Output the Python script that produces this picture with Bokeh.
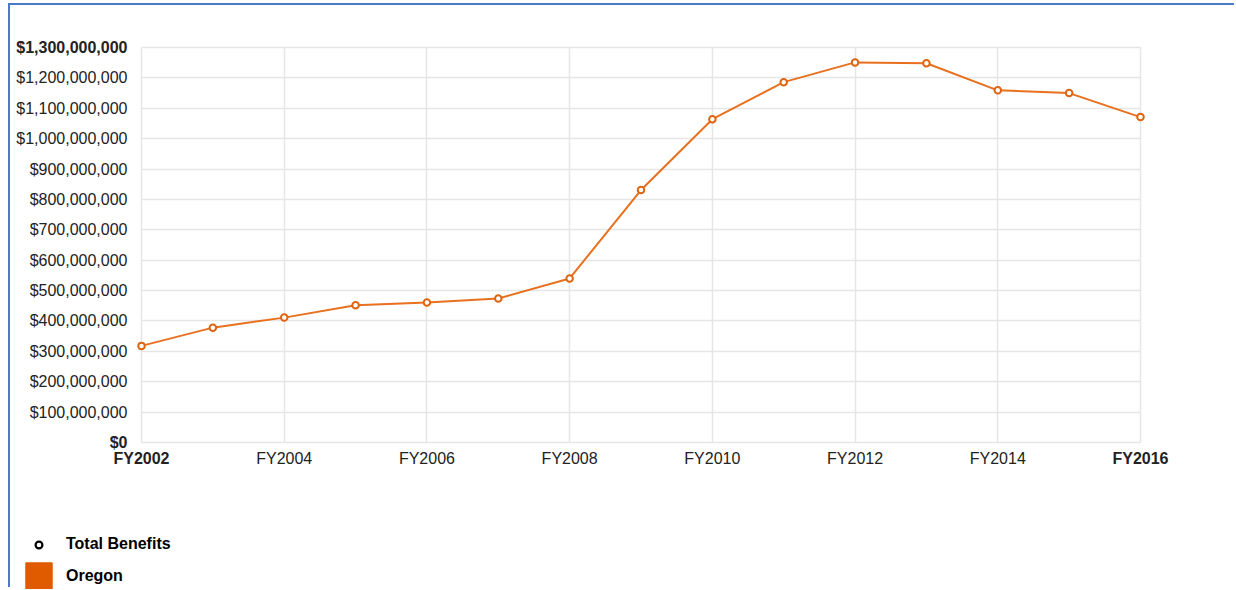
from bokeh.plotting import figure
from bokeh.models import Range1d, FixedTicker, Legend, LegendItem, Grid
from bokeh.core.properties import value
from bokeh.embed import file_html
from bokeh.resources import INLINE

# ---- data ----
years = [2002, 2003, 2004, 2005, 2006, 2007, 2008, 2009, 2010, 2011, 2012, 2013, 2014, 2015, 2016]
total_benefits = [318e6, 378e6, 411e6, 452e6, 461e6, 474e6, 540e6, 831e6,
                  1064e6, 1186e6, 1251e6, 1248e6, 1159e6, 1150e6, 1071e6]
x_ticks = [2002, 2004, 2006, 2008, 2010, 2012, 2014, 2016]
x_tick_labels = ["FY2002", "FY2004", "FY2006", "FY2008", "FY2010", "FY2012", "FY2014", "FY2016"]
y_ticks = [0, 100e6, 200e6, 300e6, 400e6, 500e6, 600e6, 700e6, 800e6, 900e6,
           1000e6, 1100e6, 1200e6, 1300e6]
y_tick_labels = ["$0", "$100,000,000", "$200,000,000", "$300,000,000", "$400,000,000",
                 "$500,000,000", "$600,000,000", "$700,000,000", "$800,000,000",
                 "$900,000,000", "$1,000,000,000", "$1,100,000,000", "$1,200,000,000",
                 "$1,300,000,000"]
series_name = "Oregon"
legend_marker_name = "Total Benefits"

# ---- style / layout ----
LINE = "#E8701E"
MARK = "#E0640F"
SQUARE = "#E05A00"
GRID = "#e6e6e6"
FONT = "Liberation Sans"
TXT = "#222222"
FS = "16px"
NAN = float("nan")

W, H = 1226, 584                # canvas size
CX0, CY0 = 10, 5                # canvas position on the page
PL, PR, PT, PB = 141, 1140, 47, 442   # plot area in page pixels

x_min, x_max = years[0], years[-1]
y_min, y_max = y_ticks[0], y_ticks[-1]
ppx = (PR - PL) / (x_max - x_min)
ppy = (PB - PT) / (y_max - y_min)
x_start = x_min - (PL - CX0) / ppx
x_end = x_start + W / ppx
y_end = y_max + (PT - CY0) / ppy
y_start = y_min - (CY0 + H - PB) / ppy

p = figure(width=W, height=H, output_backend="svg", toolbar_location=None,
           x_range=Range1d(x_start, x_end), y_range=Range1d(y_start, y_end),
           min_border=0, min_border_left=0, min_border_right=0,
           min_border_top=0, min_border_bottom=0)
p.styles = {"border-top": "2px solid #4A7BC8", "border-left": "2px solid #4A7BC8",
            "margin-top": "3px", "margin-left": "8px"}
p.outline_line_color = None
p.background_fill_color = "white"
p.border_fill_color = "white"
p.xaxis.visible = False
p.yaxis.visible = False

# grid restricted to the plot area
p.xgrid.ticker = FixedTicker(ticks=x_ticks)
p.ygrid.ticker = FixedTicker(ticks=y_ticks)
p.grid.grid_line_color = GRID
p.grid.grid_line_width = 1.5
if "cross_bounds" in Grid.properties():
    p.xgrid.cross_bounds = (y_min, y_max)
    p.ygrid.cross_bounds = (x_min, x_max)
    p.xgrid.bounds = (x_min, x_max)
    p.ygrid.bounds = (y_min, y_max)
else:
    p.grid.visible = False
    p.segment(x0=x_ticks, y0=[y_min] * len(x_ticks), x1=x_ticks, y1=[y_max] * len(x_ticks),
              line_color=GRID, line_width=1.5)
    p.segment(x0=[x_min] * len(y_ticks), y0=y_ticks, x1=[x_max] * len(y_ticks), y1=y_ticks,
              line_color=GRID, line_width=1.5)

# tick labels (first/last bold)
def tick_text(xs, ys, texts, bold, **kw):
    p.text(x=xs, y=ys, text=texts, text_font=value(FONT), text_font_size=FS,
           text_font_style="bold" if bold else "normal", text_color=TXT, **kw)

ykw = dict(x_offset=-14, text_align="right", text_baseline="middle")
tick_text([x_min] * (len(y_ticks) - 2), y_ticks[1:-1], y_tick_labels[1:-1], False, **ykw)
tick_text([x_min, x_min], [y_ticks[0], y_ticks[-1]], [y_tick_labels[0], y_tick_labels[-1]], True, **ykw)
xkw = dict(y_offset=16, text_align="center", text_baseline="middle")
tick_text(x_ticks[1:-1], [y_min] * (len(x_ticks) - 2), x_tick_labels[1:-1], False, **xkw)
tick_text([x_ticks[0], x_ticks[-1]], [y_min, y_min], [x_tick_labels[0], x_tick_labels[-1]], True, **xkw)

# series
p.line(years, total_benefits, line_color=LINE, line_width=2)
p.scatter(years, total_benefits, marker="circle", size=6.5, fill_color="white",
          line_color=MARK, line_width=2)

# legend (lower left); legend-only renderers hold a single NaN so they draw nothing
r_circ = p.scatter(x=[NAN], y=[NAN], marker="circle", fill_color="white",
                   line_color="black", line_width=2.2)
r_sq = p.quad(left=[NAN], right=[NAN], top=[NAN], bottom=[NAN],
              fill_color=SQUARE, line_color=SQUARE)
common = dict(padding=0, margin=0, spacing=0, border_line_color=None,
              background_fill_alpha=0, label_text_font=FONT, label_text_font_style="bold",
              label_text_font_size=FS, label_text_color="black")
leg1 = Legend(items=[LegendItem(label=legend_marker_name, renderers=[r_circ])],
              location=(15, 36), glyph_width=27, glyph_height=17, label_height=17,
              label_standoff=14, **common)
leg2 = Legend(items=[LegendItem(label=series_name, renderers=[r_sq])],
              location=(12, -3), glyph_width=33, glyph_height=33, label_height=33,
              label_standoff=11, **common)
p.add_layout(leg1, "center")
p.add_layout(leg2, "center")

open("out.html", "w").write(file_html(p, INLINE))
